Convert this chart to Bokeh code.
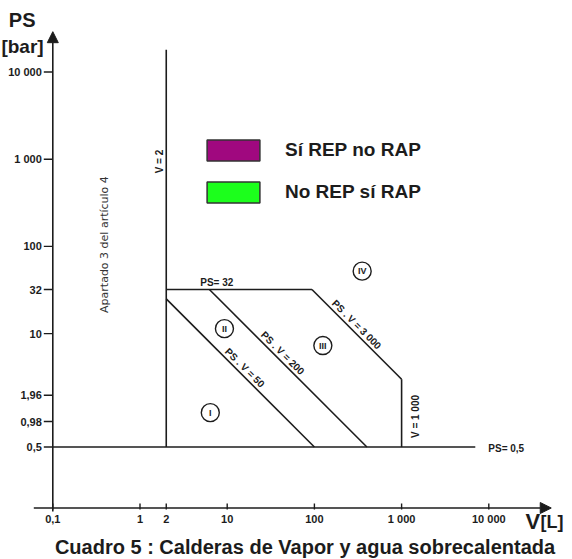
import math

from bokeh.core.properties import value
from bokeh.embed import file_html
from bokeh.models import Arrow, Label, Legend, LegendItem, NormalHead, Range1d
from bokeh.plotting import figure
from bokeh.resources import INLINE

# ---------------------------------------------------------------- data
# axis ticks
ps_ticks = [10000, 1000, 100, 32, 10, 1.96, 0.98, 0.5]
ps_tick_labels = ["10 000", "1 000", "100", "32", "10", "1,96", "0,98", "0,5"]
v_ticks = [0.1, 1, 2, 10, 100, 1000, 10000]
v_tick_labels = ["0,1", "1", "2", "10", "100", "1 000", "10 000"]

# category limits for steam boilers
v_min = 2              # V = 2 L
v_max = 1000           # V = 1 000 L
ps_max = 32            # PS = 32 bar
ps_min = 0.5           # PS = 0,5 bar
v_min_top = 18000      # upper end of the V = 2 line
ps_min_right = 7000    # right end of the PS = 0,5 line
pv_limits = [50, 200, 3000]
pv_texts = ["PS . V = 50", "PS . V = 200", "PS . V = 3 000"]
pv_text_v = [14, 38, 268]

# category markers
categories = ["I", "II", "III", "IV"]
category_v = [6.4, 9.3, 125, 353]
category_ps = [1.24, 11.4, 7.3, 52]

legend_labels = ["Sí REP no RAP", "No REP sí RAP"]
legend_colors = ["#a0087f", "#1cff1c"]

# ---------------------------------------------------------------- geometry
W, H = 572, 559
DEC = 87.2                    # pixels per decade on both axes
X1_PX, Y1_PX = 139.5, 420.3   # screen position of V = 1 and PS = 1

AXIS_V = 0.1                  # vertical axis sits at V = 0,1
AXIS_PS = 0.1                 # horizontal axis sits at PS = 0,1
V_AXIS_END = 52000            # arrow tips
PS_AXIS_END = 29000


def shift(v, px):
    """Move a log-scale value by px pixels."""
    return v * 10 ** (px / DEC)


FONT = value("Liberation Sans")
INK = "#1c1c1c"

p = figure(
    width=W, height=H,
    x_axis_type="log", y_axis_type="log",
    x_range=Range1d(10 ** (-X1_PX / DEC), 10 ** ((W - X1_PX) / DEC)),
    y_range=Range1d(10 ** ((Y1_PX - H) / DEC), 10 ** (Y1_PX / DEC)),
    x_axis_location=None, y_axis_location=None,
    output_backend="svg", toolbar_location=None, min_border=0,
)
p.grid.visible = False
p.outline_line_color = None
p.background_fill_color = "white"

# ---------------------------------------------------------------- axes
head = dict(size=11, fill_color=INK, line_color=INK, line_width=1)
p.add_layout(Arrow(end=NormalHead(**head), x_start=AXIS_V, y_start=shift(AXIS_PS, -3.5),
                   x_end=AXIS_V, y_end=PS_AXIS_END, line_color=INK, line_width=1.6))
p.add_layout(Arrow(end=NormalHead(**head), x_start=shift(AXIS_V, -19), y_start=AXIS_PS,
                   x_end=V_AXIS_END, y_end=AXIS_PS, line_color=INK, line_width=1.6))

p.segment(x0=[shift(AXIS_V, -9)] * len(ps_ticks), y0=ps_ticks,
          x1=[AXIS_V] * len(ps_ticks), y1=ps_ticks, line_color=INK, line_width=1.4)
p.segment(x0=v_ticks, y0=[shift(AXIS_PS, -1.5)] * len(v_ticks),
          x1=v_ticks, y1=[shift(AXIS_PS, 4.5)] * len(v_ticks), line_color=INK, line_width=1.4)

tick_style = dict(text_font=FONT, text_font_style="bold", text_font_size="11px", text_color=INK)
p.text(x=[AXIS_V] * len(ps_ticks), y=ps_ticks, text=ps_tick_labels, x_offset=-11,
       text_align="right", text_baseline="middle", **tick_style)
p.text(x=v_ticks, y=[AXIS_PS] * len(v_ticks), text=v_tick_labels, y_offset=11,
       text_align="center", text_baseline="middle", **tick_style)

# ---------------------------------------------------------------- category limits
xs = [[v_min, v_min], [v_min, pv_limits[-1] / ps_max], [v_max, v_max], [AXIS_V, ps_min_right]]
ys = [[ps_min, v_min_top], [ps_max, ps_max], [ps_min, pv_limits[-1] / v_max], [ps_min, ps_min]]
for k in pv_limits:
    v0, v1 = max(v_min, k / ps_max), min(v_max, k / ps_min)
    xs.append([v0, v1])
    ys.append([k / v0, k / v1])
p.multi_line(xs, ys, line_color=INK, line_width=1.6)

label_style = dict(text_font=FONT, text_font_style="bold", text_font_size="10px", text_color=INK)
p.text(x=pv_text_v, y=[k / v for k, v in zip(pv_limits, pv_text_v)], text=pv_texts,
       angle=-math.pi / 4, x_offset=1, y_offset=-1,
       text_align="center", text_baseline="bottom", **label_style)
p.text(x=[7.6], y=[ps_max], text=["PS= 32"], y_offset=-7,
       text_align="center", text_baseline="alphabetic", **label_style)
p.text(x=[ps_min_right], y=[ps_min], text=["PS= 0,5"], x_offset=13, y_offset=1,
       text_align="left", text_baseline="middle", **label_style)
p.text(x=[v_min], y=[940], text=["V = 2"], angle=math.pi / 2, x_offset=-1,
       text_align="center", text_baseline="bottom", **label_style)
p.text(x=[v_max], y=[1.12], text=["V = 1 000"], angle=math.pi / 2, x_offset=8,
       text_align="center", text_baseline="top", **label_style)
p.text(x=[0.39], y=[105], text=["Apartado 3 del artículo 4"], angle=math.pi / 2,
       text_align="center", text_baseline="middle", text_font=value("DejaVu Sans"),
       text_font_size="11px", text_color="#333333")

# category numbers in circles
p.scatter(category_v, category_ps, marker="circle", size=18, fill_color=None,
          line_color=INK, line_width=1.4)
p.text(x=category_v, y=category_ps, text=categories, text_align="center", text_baseline="middle",
       text_font=FONT, text_font_style="bold", text_font_size="9px", text_color=INK)

# ---------------------------------------------------------------- legend
# swatch-only renderers: one NaN row each, so nothing is drawn in the plot area
nan = float("nan")
items = []
for lab, col in zip(legend_labels, legend_colors):
    r = p.quad(left=[nan], right=[nan], top=[nan], bottom=[nan], fill_color=col,
               line_color="#333333", line_width=1.5)
    items.append(LegendItem(label=lab, renderers=[r]))
p.add_layout(Legend(items=items, location=(200, 354), glyph_width=66, glyph_height=26,
                    spacing=16, label_standoff=19, padding=0, margin=0, label_height=26,
                    border_line_color=None, background_fill_alpha=0,
                    label_text_font="Liberation Sans", label_text_font_style="bold",
                    label_text_font_size="19px", label_text_color=INK))

# ---------------------------------------------------------------- axis titles and caption
def screen_label(x, y, text, size, align="center"):
    p.add_layout(Label(x=x, y=y, x_units="screen", y_units="screen", text=text,
                       text_align=align, text_baseline="alphabetic", text_font="Liberation Sans",
                       text_font_style="bold", text_font_size=size, text_color=INK))


screen_label(21.7, 539.5, "PS", "20px")
screen_label(22, 513, "[bar]", "19px")
screen_label(525, 38.5, "V", "22px", "left")
screen_label(540, 38, "[L]", "18px", "left")
screen_label(304.5, 13, "Cuadro 5 : Calderas de Vapor y agua sobrecalentada", "20px")

open("out.html", "w").write(file_html(p, INLINE))
